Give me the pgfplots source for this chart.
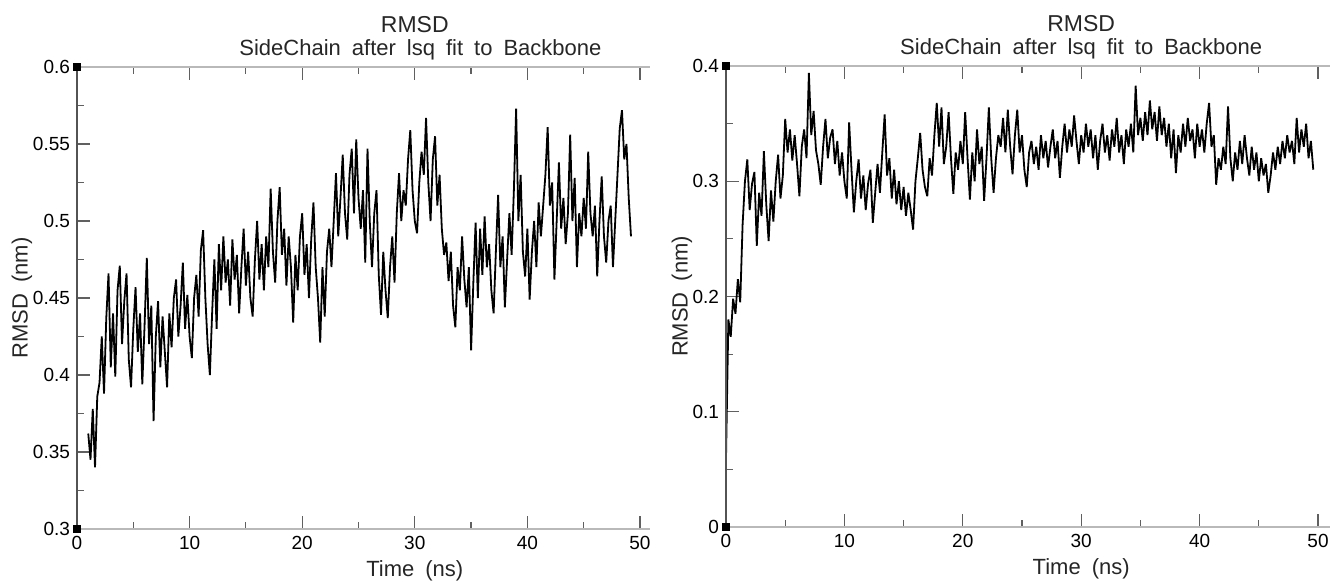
\documentclass[border=0pt]{standalone}
\usepackage{fontspec}
\setmainfont{Liberation Sans}
\usepackage{pgfplots}
\pgfplotsset{compat=1.18}

\pgfplotsset{rmsd/.style={
    scale only axis, anchor=south west, clip=false,
    xmin=0, xmax=50,
    axis line style={draw=none},
    xtick pos=both, ytick pos=left, tick align=inside,
    xtick={0,10,20,30,40,50}, xticklabels={0,10,20,30,40,50},
    minor x tick num=1, minor y tick num=1,
    major tick length=6.5pt, minor tick length=3.5pt,
    tick style={gray!75!black, line width=0.6pt},
    tick label style={font=\fontsize{9.5}{10}\selectfont},
    /pgf/number format/assume math mode=true,
}}
\tikzset{
  lab/.style={font=\fontsize{11}{13}\selectfont, text=black!85, inner sep=0pt},
  trace/.style={black, line width=0.9pt, line join=miter, miter limit=2},
}
\newcommand{\wide}{\spaceskip=0.5em\relax}

\begin{document}
\begin{tikzpicture}
\useasboundingbox (0pt,0pt) rectangle (666pt,291pt);

% left panel
\begin{axis}[rmsd, at={(38.5pt,26.5pt)}, width=281.5pt, height=231pt,
    ymin=0.3, ymax=0.6,
    ytick={0.3,0.35,0.4,0.45,0.5,0.55,0.6},
    yticklabels={0.3,0.35,0.4,0.45,0.5,0.55,0.6}]
\addplot[trace] table[x expr=1+0.2*\coordindex, y index=0, header=false, row sep=\\] {
0.362\\0.345\\0.378\\0.340\\0.386\\
0.395\\0.425\\0.388\\0.437\\0.466\\
0.405\\0.440\\0.399\\0.455\\0.471\\
0.420\\0.448\\0.466\\0.410\\0.392\\
0.430\\0.457\\0.415\\0.440\\0.394\\
0.432\\0.476\\0.420\\0.445\\0.370\\
0.425\\0.448\\0.405\\0.438\\0.415\\
0.392\\0.440\\0.418\\0.450\\0.462\\
0.425\\0.445\\0.473\\0.430\\0.452\\
0.425\\0.411\\0.450\\0.465\\0.438\\
0.481\\0.494\\0.450\\0.420\\0.400\\
0.440\\0.475\\0.430\\0.485\\0.455\\
0.490\\0.460\\0.475\\0.445\\0.488\\
0.462\\0.478\\0.440\\0.470\\0.495\\
0.458\\0.480\\0.450\\0.438\\0.475\\
0.500\\0.462\\0.485\\0.455\\0.490\\
0.470\\0.521\\0.480\\0.460\\0.500\\
0.522\\0.478\\0.495\\0.458\\0.490\\
0.470\\0.434\\0.478\\0.455\\0.490\\
0.505\\0.465\\0.485\\0.450\\0.488\\
0.512\\0.470\\0.450\\0.421\\0.470\\
0.438\\0.480\\0.495\\0.470\\0.500\\
0.531\\0.490\\0.515\\0.543\\0.505\\
0.488\\0.530\\0.547\\0.505\\0.553\\
0.515\\0.495\\0.520\\0.473\\0.547\\
0.500\\0.470\\0.505\\0.520\\0.465\\
0.439\\0.480\\0.455\\0.437\\0.470\\
0.490\\0.460\\0.505\\0.531\\0.500\\
0.520\\0.510\\0.540\\0.559\\0.520\\
0.500\\0.492\\0.525\\0.545\\0.530\\
0.567\\0.525\\0.500\\0.540\\0.555\\
0.510\\0.530\\0.495\\0.478\\0.486\\
0.461\\0.480\\0.445\\0.431\\0.470\\
0.455\\0.490\\0.462\\0.444\\0.470\\
0.416\\0.460\\0.499\\0.450\\0.495\\
0.465\\0.503\\0.470\\0.485\\0.455\\
0.440\\0.480\\0.517\\0.470\\0.490\\
0.444\\0.475\\0.505\\0.478\\0.520\\
0.573\\0.500\\0.530\\0.480\\0.464\\
0.495\\0.449\\0.480\\0.500\\0.470\\
0.512\\0.490\\0.510\\0.530\\0.561\\
0.510\\0.525\\0.462\\0.500\\0.538\\
0.495\\0.515\\0.485\\0.505\\0.556\\
0.500\\0.528\\0.470\\0.505\\0.490\\
0.515\\0.495\\0.545\\0.505\\0.490\\
0.510\\0.464\\0.500\\0.529\\0.490\\
0.473\\0.500\\0.510\\0.470\\0.500\\
0.530\\0.560\\0.572\\0.540\\0.550\\
0.515\\0.490\\
};
\draw[gray!55, line width=1.3pt] (rel axis cs:0,0) -- (rel axis cs:1.018,0);
\draw[gray!55, line width=1.3pt] (rel axis cs:0,1) -- (rel axis cs:1.018,1);
\draw[gray!65!black, line width=0.8pt] (rel axis cs:0,0) -- (rel axis cs:0,1);
\addplot[only marks, mark=square*, mark size=1.6pt, black] coordinates {(0,0.3) (0,0.6)};
\node[lab, anchor=base, yshift=17pt, font=\fontsize{11.5}{13}\selectfont] at (rel axis cs:0.6,1) {RMSD};
\node[lab, anchor=base, yshift=5.5pt] at (rel axis cs:0.61,1) {\wide SideChain after lsq fit to Backbone};
\node[lab, anchor=base, yshift=-24pt] at (rel axis cs:0.6,0) {\wide Time (ns)};
\node[lab, anchor=center, xshift=-27.5pt, rotate=90] at (rel axis cs:0,0.5) {\wide RMSD (nm)};
\end{axis}

% right panel
\begin{axis}[rmsd, at={(363pt,27.5pt)}, width=296pt, height=230.5pt,
    ymin=0, ymax=0.4,
    ytick={0,0.1,0.2,0.3,0.4},
    yticklabels={0,0.1,0.2,0.3,0.4}]
\addplot[trace] table[x expr=0.2*\coordindex, y index=0, header=false, row sep=\\] {
0.060\\0.180\\0.165\\0.198\\0.185\\
0.215\\0.195\\0.262\\0.300\\0.319\\
0.275\\0.298\\0.308\\0.244\\0.290\\
0.270\\0.326\\0.280\\0.248\\0.292\\
0.265\\0.300\\0.323\\0.285\\0.305\\
0.354\\0.325\\0.345\\0.318\\0.340\\
0.315\\0.287\\0.330\\0.345\\0.320\\
0.394\\0.340\\0.361\\0.327\\0.315\\
0.297\\0.330\\0.354\\0.320\\0.338\\
0.345\\0.315\\0.335\\0.305\\0.325\\
0.300\\0.285\\0.351\\0.310\\0.273\\
0.300\\0.319\\0.285\\0.305\\0.275\\
0.298\\0.310\\0.264\\0.290\\0.315\\
0.290\\0.325\\0.358\\0.305\\0.320\\
0.285\\0.310\\0.280\\0.300\\0.275\\
0.295\\0.270\\0.290\\0.275\\0.258\\
0.300\\0.320\\0.342\\0.310\\0.295\\
0.287\\0.320\\0.305\\0.340\\0.368\\
0.330\\0.364\\0.315\\0.330\\0.360\\
0.320\\0.289\\0.325\\0.310\\0.335\\
0.315\\0.360\\0.320\\0.284\\0.325\\
0.300\\0.345\\0.315\\0.330\\0.283\\
0.320\\0.364\\0.320\\0.290\\0.320\\
0.340\\0.330\\0.355\\0.325\\0.362\\
0.330\\0.306\\0.340\\0.362\\0.325\\
0.340\\0.310\\0.295\\0.325\\0.335\\
0.315\\0.330\\0.310\\0.340\\0.320\\
0.335\\0.312\\0.330\\0.345\\0.320\\
0.335\\0.303\\0.330\\0.350\\0.325\\
0.345\\0.330\\0.357\\0.335\\0.315\\
0.340\\0.325\\0.350\\0.330\\0.345\\
0.320\\0.340\\0.310\\0.335\\0.350\\
0.325\\0.340\\0.318\\0.345\\0.330\\
0.355\\0.325\\0.340\\0.315\\0.345\\
0.330\\0.350\\0.325\\0.383\\0.340\\
0.355\\0.335\\0.360\\0.340\\0.370\\
0.345\\0.360\\0.335\\0.365\\0.340\\
0.355\\0.330\\0.350\\0.320\\0.345\\
0.307\\0.340\\0.325\\0.350\\0.330\\
0.355\\0.335\\0.345\\0.320\\0.350\\
0.330\\0.345\\0.325\\0.350\\0.368\\
0.330\\0.340\\0.297\\0.320\\0.310\\
0.330\\0.315\\0.365\\0.320\\0.300\\
0.325\\0.310\\0.335\\0.315\\0.340\\
0.320\\0.305\\0.330\\0.310\\0.325\\
0.300\\0.320\\0.305\\0.315\\0.290\\
0.305\\0.325\\0.310\\0.330\\0.315\\
0.335\\0.320\\0.340\\0.325\\0.335\\
0.315\\0.355\\0.325\\0.345\\0.330\\
0.350\\0.320\\0.335\\0.310\\
};
\draw[gray!55, line width=1.3pt] (rel axis cs:0,0) -- (rel axis cs:1.02,0);
\draw[gray!55, line width=1.3pt] (rel axis cs:0,1) -- (rel axis cs:1.02,1);
\draw[gray!65!black, line width=0.8pt] (rel axis cs:0,0) -- (rel axis cs:0,1);
\addplot[only marks, mark=square*, mark size=1.6pt, black] coordinates {(0,0) (0,0.4)};
\node[lab, anchor=base, yshift=17pt, font=\fontsize{11.5}{13}\selectfont] at (rel axis cs:0.6,1) {RMSD};
\node[lab, anchor=base, yshift=5.5pt] at (rel axis cs:0.6,1) {\wide SideChain after lsq fit to Backbone};
\node[lab, anchor=base, yshift=-24pt] at (rel axis cs:0.6,0) {\wide Time (ns)};
\node[lab, anchor=center, xshift=-22pt, rotate=90] at (rel axis cs:0,0.5) {\wide RMSD (nm)};
\end{axis}
\end{tikzpicture}
\end{document}
